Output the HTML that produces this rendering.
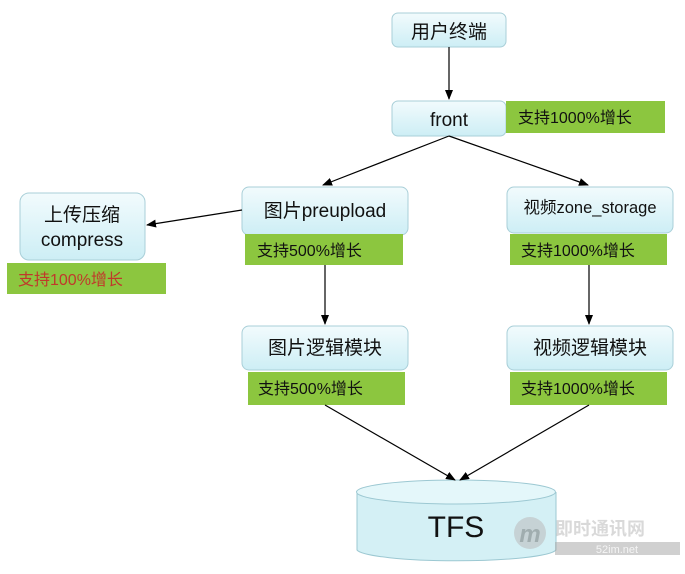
<!DOCTYPE html>
<html><head><meta charset="utf-8"><style>
html,body{margin:0;padding:0;background:#fff}
svg text{font-family:"Liberation Sans","Noto Sans CJK SC",sans-serif}
</style></head><body>
<svg width="685" height="569" viewBox="0 0 685 569" xmlns="http://www.w3.org/2000/svg">
<defs>
<linearGradient id="g" x1="0" y1="0" x2="0" y2="1"><stop offset="0" stop-color="#f2fbfd"/><stop offset="1" stop-color="#cdeef5"/></linearGradient>
<marker id="a" markerWidth="10" markerHeight="8" refX="9" refY="4" orient="auto" markerUnits="userSpaceOnUse"><path d="M0,0 L10,4 L0,8 z" fill="#000"/></marker>
</defs>
<g stroke="#a9cfd8" stroke-width="1" fill="url(#g)">
<rect x="392" y="13" width="114" height="34" rx="6"/>
<rect x="392" y="101" width="114" height="35" rx="6"/>
<rect x="242" y="187" width="166" height="48" rx="7"/>
<rect x="507" y="187" width="166" height="46" rx="7"/>
<rect x="20" y="193" width="125" height="67" rx="9"/>
<rect x="242" y="326" width="166" height="44" rx="7"/>
<rect x="507" y="326" width="166" height="44" rx="7"/>
</g>
<g fill="#8cc63f">
<rect x="506" y="101" width="159" height="32"/>
<rect x="245" y="234" width="158" height="31"/>
<rect x="510" y="234" width="157" height="31"/>
<rect x="7" y="263" width="159" height="31"/>
<rect x="248" y="372" width="157" height="33"/>
<rect x="510" y="372" width="157" height="33"/>
</g>
<path d="M357,492 L357,550 A100,12 0 0 0 556,550 L556,492" fill="#d4f0f5" stroke="#9cc8d2"/>
<ellipse cx="456" cy="492" rx="99.5" ry="12" fill="#e4f7fa" stroke="#9cc8d2"/>
<g stroke="#000" stroke-width="1.2" fill="none" marker-end="url(#a)">
<line x1="449" y1="47" x2="449" y2="99"/>
<line x1="449" y1="136" x2="323" y2="185"/>
<line x1="449" y1="136" x2="588" y2="185"/>
<line x1="242" y1="210" x2="147" y2="225"/>
<line x1="325" y1="265" x2="325" y2="324"/>
<line x1="589" y1="265" x2="589" y2="324"/>
<line x1="325" y1="405" x2="455" y2="480"/>
<line x1="589" y1="405" x2="460" y2="480"/>
</g>
<g fill="#111" text-anchor="middle">
<text x="449" y="38" font-size="19">用户终端</text>
<text x="449" y="126" font-size="19">front</text>
<text x="325" y="217" font-size="19">图片preupload</text>
<text x="590" y="213" font-size="16.5">视频zone_storage</text>
<text x="82" y="221" font-size="19">上传压缩</text>
<text x="82" y="246" font-size="19">compress</text>
<text x="325" y="354" font-size="19">图片逻辑模块</text>
<text x="590" y="354" font-size="19">视频逻辑模块</text>
<text x="456" y="537" font-size="30">TFS</text>
</g>
<g font-size="16" fill="#111">
<text x="518" y="123">支持1000%增长</text>
<text x="257" y="256">支持500%增长</text>
<text x="521" y="256">支持1000%增长</text>
<text x="18" y="285" fill="#c0392b">支持100%增长</text>
<text x="258" y="394">支持500%增长</text>
<text x="521" y="394">支持1000%增长</text>
</g>
<g opacity="0.55">
<circle cx="530" cy="533" r="16" fill="#bbb"/>
<text x="530" y="542" font-size="24" font-style="italic" font-weight="bold" fill="#777" text-anchor="middle">m</text>
<text x="555" y="535" font-size="18" fill="#bbb" font-weight="bold">即时通讯网</text>
<rect x="555" y="542" width="125" height="13" fill="#aaa"/>
<text x="617" y="553" font-size="11" fill="#eee" text-anchor="middle">52im.net</text>
</g>
</svg>
</body></html>
